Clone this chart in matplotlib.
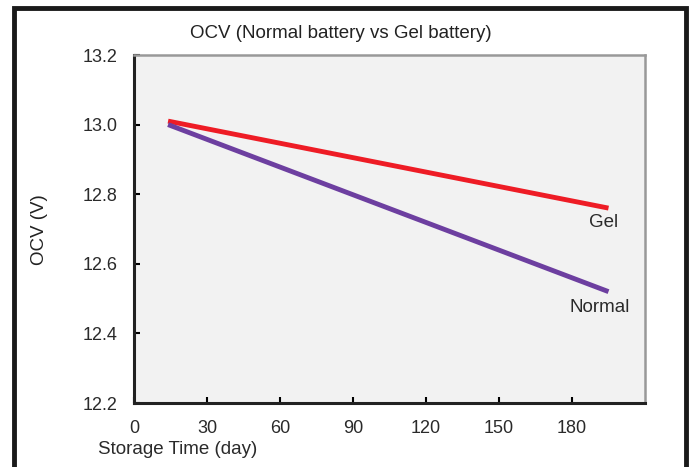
import matplotlib.pyplot as plt
from matplotlib.patches import Rectangle

plt.rcParams['font.family'] = ['Liberation Sans', 'DejaVu Sans']

days = [14, 195]
gel_ocv = [13.01, 12.76]
normal_ocv = [13.0, 12.52]
xticks = [0, 30, 60, 90, 120, 150, 180]
yticks = [12.2, 12.4, 12.6, 12.8, 13.0, 13.2]

fig = plt.figure(figsize=(6.93, 4.67), dpi=100)
ax = fig.add_axes([134 / 693, 1 - 403 / 467, (645 - 134) / 693, (403 - 55) / 467])
ax.set_facecolor('#f2f2f2')

ax.plot(days, gel_ocv, color='#ee1c25', lw=3.5, solid_capstyle='butt')
ax.plot(days, normal_ocv, color='#6d3fa0', lw=3.5, solid_capstyle='butt')

# line labels
ax.text(192.8, 12.719, 'Gel', ha='center', va='center', fontsize=13.5, color='#2a2a2a')
ax.text(191.5, 12.475, 'Normal', ha='center', va='center', fontsize=13.5, color='#2a2a2a')

ax.set_xlim(0, 210)
ax.set_ylim(12.2, 13.2)
ax.set_xticks(xticks)
ax.set_yticks(yticks)
ax.set_yticklabels([f'{v:.1f}' for v in yticks])
ax.tick_params(direction='in', length=4, width=1.5, labelsize=13, labelcolor='#2a2a2a')
ax.tick_params(axis='x', pad=12)
ax.tick_params(axis='y', pad=12)
for s in ['left', 'bottom']:
    ax.spines[s].set_linewidth(2.2)
    ax.spines[s].set_color('#222222')
for s in ['top', 'right']:
    ax.spines[s].set_linewidth(1.8)
    ax.spines[s].set_color('#999999')

fig.text(341 / 693, 1 - 33 / 467, 'OCV (Normal battery vs Gel battery)', ha='center',
         va='center', fontsize=13.5, color='#222222')
fig.text(40 / 693, 1 - 230 / 467, 'OCV (V)', rotation=90, ha='center', va='center',
         fontsize=13.5, color='#222222')
fig.text(178 / 693, 1 - 450 / 467, 'Storage Time (day)', ha='center', va='center',
         fontsize=13.5, color='#2a2a2a')

fig.patches.append(Rectangle((14 / 693, -0.05), (686 - 14) / 693, 1.05 - 8 / 467,
                             transform=fig.transFigure, fill=False, lw=3.5,
                             edgecolor='#1a1a1a'))

fig.savefig('out.png', dpi=100)
